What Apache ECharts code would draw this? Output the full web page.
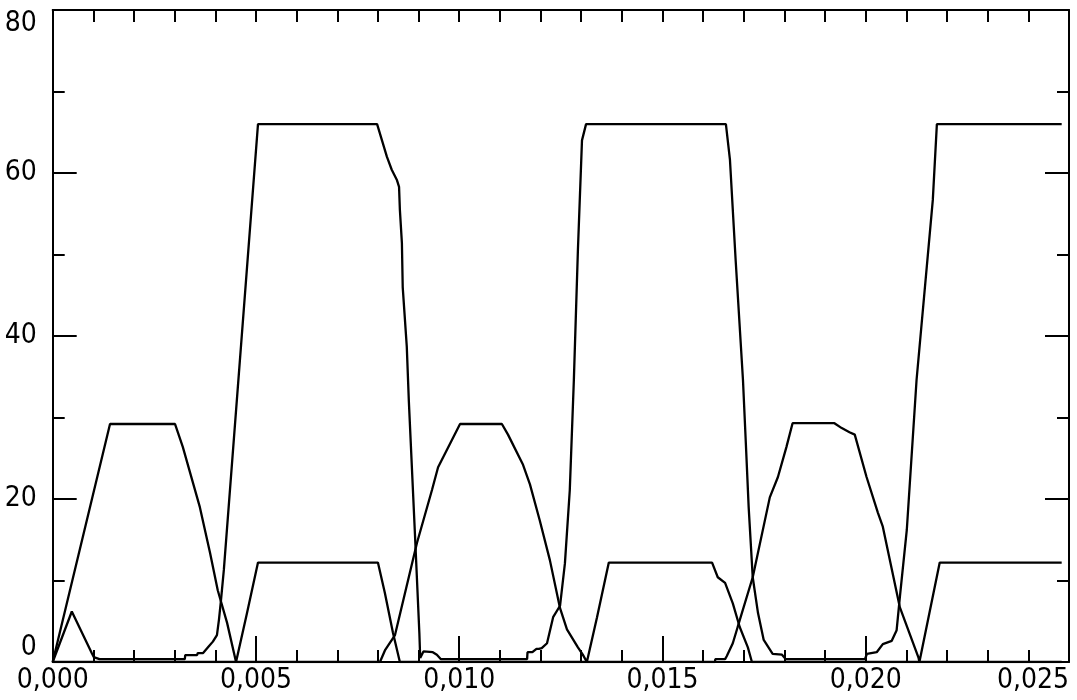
<!DOCTYPE html>
<html><head><meta charset="utf-8">
<script src="https://cdn.jsdelivr.net/npm/echarts@6/dist/echarts.min.js"></script>
<style>html,body{margin:0;padding:0;background:#fff}#c{width:1077px;height:700px}</style>
</head><body><div id="c"></div>
<script>
// axis ranges / ticks
const xMin = 0, xMax = 0.025, xStep = 0.005;
const yMin = 0, yMax = 80, yStep = 20;

// Series A (66-level wave)
const tA = [0, 0.00047, 0.00096, 0.00101, 0.00115, 0.00325, 0.00326, 0.00355, 0.00357, 0.00370, 0.00382, 0.00394, 0.00404, 0.00409, 0.00414, 0.00421, 0.00505,
  0.00798, 0.00810, 0.00822, 0.00834, 0.00847, 0.00852, 0.00854, 0.00859, 0.00861, 0.00871, 0.00876, 0.00891, 0.00902, 0.00904, 0.00912, 0.00935, 0.00945, 0.00955,
  0.01167, 0.01168, 0.01180, 0.01190, 0.01196, 0.01203, 0.01216, 0.01231, 0.01248, 0.01260, 0.01272, 0.01282, 0.01292, 0.01302, 0.01312,
  0.01656, 0.01666, 0.01680, 0.01698, 0.01705, 0.01712, 0.01722, 0.01735, 0.01749, 0.01771, 0.01794, 0.01803,
  0.01998, 0.02003, 0.02027, 0.02042, 0.02064, 0.02076, 0.02084, 0.02101, 0.02125, 0.02165, 0.02175, 0.02482];
const vA = [0, 6.2, 1.1, 0.6, 0.35, 0.35, 0.85, 0.85, 1.1, 1.1, 1.8, 2.5, 3.3, 5.2, 7.6, 11.3, 66,
  66, 64, 62, 60.4, 59.1, 58.3, 55.5, 51.4, 46, 38.7, 32.1, 15.8, 3.5, 0.5, 1.3, 1.2, 0.9, 0.35,
  0.35, 1.2, 1.2, 1.6, 1.6, 1.7, 2.3, 5.5, 6.9, 12.1, 21.1, 34.6, 50.6, 64, 66,
  66, 61.6, 49.3, 34.6, 26.9, 19, 10.4, 6, 2.7, 1.0, 0.9, 0.35,
  0.35, 1.0, 1.2, 2.2, 2.6, 3.9, 8, 16.2, 34.6, 56.7, 66, 66];

// Series B (29 hump -> 12 plateau)
const tB = [0, 0.00141, 0.00301, 0.00320, 0.00362, 0.00387, 0.00406, 0.00429, 0.00451, 0.00478, 0.00505, 0.00800, 0.00817, 0.00837, 0.00854,
  0.01629, 0.01630, 0.01654, 0.01658, 0.01673, 0.01685, 0.01722, 0.01764, 0.01784, 0.01805, 0.01820, 0.01923, 0.01941, 0.01960, 0.01973,
  0.02002, 0.02030, 0.02042, 0.02084, 0.02130, 0.02132, 0.02182, 0.02482];
const vB = [0, 29.2, 29.2, 26.4, 19, 13.4, 8.8, 4.8, 0, 6, 12.2, 12.2, 8.5, 3.6, 0,
  0, 0.35, 0.35, 0.7, 2.3, 4.3, 10.4, 20.2, 22.7, 26.4, 29.3, 29.3, 28.7, 28.2, 27.9,
  22.7, 18.3, 16.6, 6.7, 0.5, 0, 12.2, 12.2];

// Series C (zero -> 29 hump -> 12 plateau -> zero)
const tC = [0, 0.00805, 0.00818, 0.00842, 0.00896, 0.00933, 0.00948, 0.01002, 0.01105, 0.01120, 0.01157, 0.01174, 0.01198, 0.01223, 0.01248, 0.01265,
  0.01292, 0.01304, 0.01314, 0.01339, 0.01368, 0.01622, 0.01636, 0.01654, 0.01673, 0.01690, 0.01710, 0.01720, 0.02482];
const vC = [0, 0, 1.5, 3.3, 14.6, 21.1, 23.9, 29.2, 29.2, 27.9, 24.2, 21.8, 17.4, 12.5, 6.6, 4.0,
  1.8, 0.9, 0, 5.5, 12.2, 12.2, 10.4, 9.7, 7.2, 4.3, 1.8, 0, 0];

const zip = (t, v) => t.map((x, i) => [x, v[i]]);
const FONT = "'Liberation Sans Narrow', 'DejaVu Sans Condensed', sans-serif";
const black = '#000';

function xAxis(pos, labels, majorLen) {
  return {
    type: 'value', position: pos, min: xMin, max: xMax, interval: xStep,
    axisLine: { show: true, onZero: false, lineStyle: { color: black, width: 2 } },
    axisTick: { show: true, inside: true, length: majorLen, lineStyle: { color: black, width: 2 } },
    minorTick: { show: true, splitNumber: 5, length: 12, lineStyle: { color: black, width: 2 } },
    splitLine: { show: false }, minorSplitLine: { show: false },
    axisLabel: { show: labels, color: black, fontFamily: FONT, fontSize: 28, margin: 5,
      alignMaxLabel: 'right',
      formatter: v => v.toFixed(3).replace('.', ',') }
  };
}
function yAxis(pos, labels) {
  return {
    type: 'value', position: pos, min: yMin, max: yMax, interval: yStep,
    axisLine: { show: true, onZero: false, lineStyle: { color: black, width: 2 } },
    axisTick: { show: true, inside: true, length: 24, lineStyle: { color: black, width: 2 } },
    minorTick: { show: true, splitNumber: 2, length: 12, lineStyle: { color: black, width: 2 } },
    splitLine: { show: false }, minorSplitLine: { show: false },
    axisLabel: { show: labels, color: black, fontFamily: FONT, fontSize: 28, margin: 16,
      verticalAlignMinLabel: 'bottom', verticalAlignMaxLabel: 'top',
      formatter: v => String(v) }
  };
}
function lineSeries(name, data) {
  return { name, type: 'line', data, xAxisIndex: 0, yAxisIndex: 0, showSymbol: false, symbol: 'none',
    lineStyle: { color: black, width: 2.3 }, itemStyle: { color: black }, animation: false };
}

const chart = echarts.init(document.getElementById('c'), null, { renderer: 'canvas' });
chart.setOption({
  backgroundColor: '#fff',
  animation: false,
  grid: { left: 52.7, right: 8, top: 10, bottom: 38, containLabel: false, outerBoundsMode: 'none' },
  xAxis: [xAxis('bottom', true, 26), xAxis('top', false, 12)],
  yAxis: [yAxis('left', true), yAxis('right', false)],
  series: [lineSeries('A', zip(tA, vA)), lineSeries('B', zip(tB, vB)), lineSeries('C', zip(tC, vC))]
});
</script></body></html>
